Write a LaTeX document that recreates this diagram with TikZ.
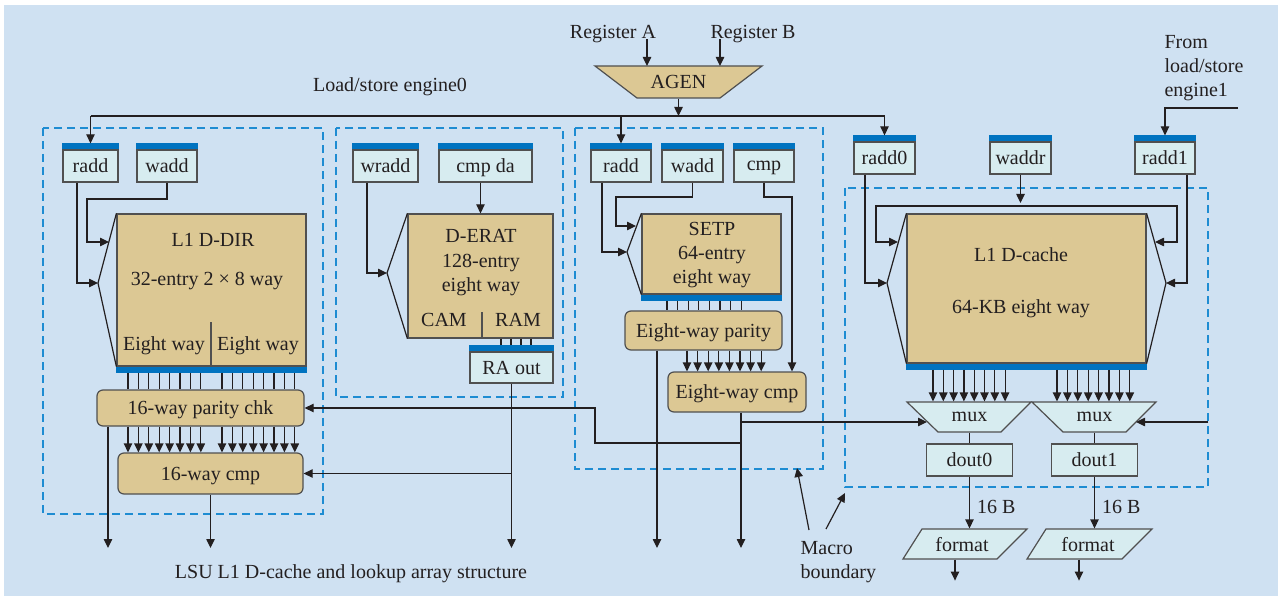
\documentclass[tikz,border=0pt]{standalone}
\usepackage{fontspec}
\setmainfont{Liberation Serif}
\usetikzlibrary{arrows.meta}

\definecolor{bgblue}{HTML}{CFE1F2}
\definecolor{arrayfill}{HTML}{DCC894}
\definecolor{regfill}{HTML}{D7ECF0}
\definecolor{barblue}{HTML}{0073C0}
\definecolor{macroblue}{HTML}{1E8CD2}
\definecolor{ink}{HTML}{231F20}
\definecolor{edge}{HTML}{505050}

\tikzset{
  wire/.style={draw=ink, line width=0.6pt},
  regbox/.style={draw=edge, fill=regfill, line width=0.6pt, inner sep=0pt, minimum height=16pt, text=ink, text depth=0pt},
  arraybox/.style={draw=edge, fill=arrayfill, line width=0.6pt, inner sep=0pt, text=ink, text depth=0pt},
  logicbox/.style={arraybox, rounded corners=3pt},
  shapefill/.style={draw=edge, fill=regfill, line width=0.6pt},
  macroline/.style={draw=macroblue, line width=0.75pt, dash pattern=on 4pt off 2.5pt},
  txt/.style={inner sep=0pt, text=ink, text depth=0pt},
}

% blue bars on top / bottom of arrays and latches
\newcommand{\topbar}[1]{%
  \fill[barblue] (#1.north west) rectangle ([yshift=3pt]#1.north east);
  \coordinate (#1bar) at ([yshift=3pt]#1.north);}
\newcommand{\botbar}[1]{%
  \fill[barblue] (#1.south west) rectangle ([yshift=-3pt]#1.south east);
  \coordinate (#1bar) at ([yshift=-3pt]#1.south);}

\begin{document}
\begin{tikzpicture}[x=0.5pt, y=-0.5pt, >={Triangle[length=4.5pt,width=4.2pt]}, line width=0.6pt]
    \useasboundingbox (0,0) rectangle (1281,599);
    \fill[bgblue] (4,5) rectangle (1278,596);

    % macro boundaries
    \draw[macroline] (43,128) rectangle (323,514);
    \draw[macroline] (336,128) rectangle (563,397);
    \draw[macroline] (575,128) rectangle (823,469);
    \draw[macroline] (845,188) rectangle (1208,487);

    % AGEN
    \node[txt] (rega) at (613,32) {Register A};
    \node[txt] (regb) at (753,32) {Register B};
    \draw[draw=edge, fill=arrayfill] (595,66) -- (762,66) -- (720,98) -- (637,98) -- cycle;
    \node[txt, minimum width=41.5pt, minimum height=16pt] (agen) at (678.5,82) {AGEN};
    \node[txt] (lse0) at (390,85) {Load/store engine0};
    \coordinate (bus) at (0,116);
    \coordinate (floor) at (0,548);

    % L1 D-DIR
    \node[regbox, minimum width=27.5pt] (raddA) at (90.5,166) {radd};
    \node[regbox, minimum width=30pt] (waddA) at (167,166) {wadd};
    \node[arraybox, minimum width=94.5pt, minimum height=76pt] (ddir) at (211.5,290) {};
    \node[txt] (ddirname) at (213,240) {L1 D-DIR};
    \node[txt] (ddirsize) at (207,279) {32-entry 2 × 8 way};
    \node[txt] (ddirway0) at (164,344) {Eight way};
    \node[txt] (ddirway1) at (258,344) {Eight way};
    \draw[draw=edge] (211,322) -- (ddir.south -| 211,0);
    \node[logicbox, minimum width=103.5pt, minimum height=18pt] (parA) at (200.5,408) {16-way parity chk};
    \node[logicbox, minimum width=92.5pt, minimum height=20.5pt] (cmpA) at (210.5,473.5) {16-way cmp};
    \coordinate (tipA) at (98,283);

    % D-ERAT
    \node[regbox, minimum width=32.5pt] (wraddB) at (385.5,166) {wradd};
    \node[regbox, minimum width=46.5pt] (cmpdaB) at (485.5,166) {cmp da};
    \node[arraybox, minimum width=72.5pt, minimum height=62pt] (derat) at (480.5,276) {};
    \node[txt] (deratname) at (481,236) {D-ERAT};
    \node[txt] (deratsize) at (481,261) {128-entry};
    \node[txt] (deratways) at (481,285) {eight way};
    \node[txt] (cam) at (444,320) {CAM};
    \node[txt] (ram) at (518,320) {RAM};
    \draw[draw=edge] (482,312) -- (derat.south -| 482,0);
    \node[regbox, minimum width=41.5pt, minimum height=15.5pt] (raout) at (511.5,367.5) {RA out};
    \coordinate (tipB) at (387,273);

    % SETP
    \node[regbox, minimum width=30pt] (raddC) at (621,166) {radd};
    \node[regbox, minimum width=30.5pt] (waddC) at (692.5,166) {wadd};
    \node[regbox, minimum width=30pt] (cmpC) at (764,166) {cmp};
    \node[arraybox, minimum width=69.5pt, minimum height=40pt] (setp) at (711.5,254) {};
    \node[txt] (setpname) at (712,229) {SETP};
    \node[txt] (setpsize) at (712,253) {64-entry};
    \node[txt] (setpways) at (712,277) {eight way};
    \node[logicbox, minimum width=78.5pt, minimum height=19.5pt] (parC) at (703.5,330.5) {Eight-way parity};
    \node[logicbox, minimum width=69pt, minimum height=20pt] (cmpE) at (737,392) {Eight-way cmp};
    \coordinate (tipC) at (627,252);

    % L1 D-cache
    \node[regbox, minimum width=30.5pt] (radd0) at (884.5,158) {radd0};
    \node[regbox, minimum width=30.5pt] (waddr) at (1020.5,158) {waddr};
    \node[regbox, minimum width=30pt] (radd1) at (1165,158) {radd1};
    \node[arraybox, minimum width=119.5pt, minimum height=74.5pt] (dcache) at (1026.5,288.5) {};
    \node[txt] (dcachename) at (1021,255) {L1 D-cache};
    \node[txt] (dcachesize) at (1021,307) {64-KB eight way};
    \coordinate (tipL) at (887,283);
    \coordinate (tipR) at (1166,283);
    \draw[shapefill] (907,402) -- (1031,402) -- (1001,432) -- (938,432) -- cycle;
    \draw[shapefill] (1032,402) -- (1156,402) -- (1126,432) -- (1063,432) -- cycle;
    \node[txt, minimum width=31.5pt, minimum height=15pt] (mux0) at (969.5,417) {mux};
    \node[txt, minimum width=31.5pt, minimum height=15pt] (mux1) at (1094.5,417) {mux};
    \node[regbox, minimum width=43pt] (dout0) at (969.5,460) {dout0};
    \node[regbox, minimum width=43pt] (dout1) at (1094.5,460) {dout1};
    \draw[shapefill] (922,529) -- (1027,529) -- (997,559) -- (903,559) -- cycle;
    \draw[shapefill] (1046,529) -- (1152,529) -- (1122,559) -- (1027,559) -- cycle;
    \node[txt, minimum height=15pt] (fmt0) at (962,544) {format};
    \node[txt, minimum height=15pt] (fmt1) at (1088,544) {format};

    \topbar{raddA} \topbar{waddA} \botbar{ddir}
    \topbar{wraddB} \topbar{cmpdaB} \topbar{raout}
    \topbar{raddC} \topbar{waddC} \topbar{cmpC} \botbar{setp}
    \topbar{radd0} \topbar{waddr} \topbar{radd1} \botbar{dcache}

    % decoder wedges
    \draw[wire] (ddir.north west) -- (tipA) -- (ddir.south west);
    \draw[wire] (derat.north west) -- (tipB) -- (derat.south west);
    \draw[wire] (setp.north west) -- (tipC) -- (setp.south west);
    \draw[wire] (dcache.north west) -- (tipL) -- (dcache.south west);
    \draw[wire] (dcache.north east) -- (tipR) -- (dcache.south east);

    % address bus
    \draw[wire,->] (rega.south -| 647,0) -- (647,66);
    \draw[wire,->] (regb.south -| 720,0) -- (720,66);
    \draw[wire,->] (agen.south) -- (agen.south |- bus);
    \draw[wire] (raddAbar |- bus) -- (radd0bar |- bus);
    \draw[wire,->] (raddAbar |- bus) -- (raddAbar);
    \draw[wire,->] (raddCbar |- bus) -- (raddCbar);
    \draw[wire,->] (radd0bar |- bus) -- (radd0bar);

    % D-DIR wiring
    \draw[wire,->] ([xshift=-6.75pt]raddA.south) |- (tipA);
    \draw[wire,->] (waddA.south) |- (87,199) |- (109,242);
    \foreach \i in {0,...,7}{
        \pgfmathsetmacro\xa{128+10.4*\i}
        \pgfmathsetmacro\xb{222+10.4*\i}
        \draw[wire] (ddirbar -| \xa,0) -- (parA.north -| \xa,0);
        \draw[wire] (ddirbar -| \xb,0) -- (parA.north -| \xb,0);
        \draw[wire,->] (parA.south -| \xa,0) -- (cmpA.north -| \xa,0);
        \draw[wire,->] (parA.south -| \xb,0) -- (cmpA.north -| \xb,0);
    }
    \draw[wire,->] (parA.south -| 108,0) -- (floor -| 108,0);
    \draw[wire,->] (cmpA.south) -- (cmpA.south |- floor);

    % D-ERAT wiring
    \draw[wire,->] ([xshift=-9.25pt]wraddB.south) |- (tipB);
    \draw[wire,->] (cmpdaB.south -| derat.north) -- (derat.north);
    \foreach \x in {501,511,521,531}
        \draw[wire] (derat.south -| \x,0) -- (raoutbar -| \x,0);
    \draw[wire,->] (raout.south) -- (raout.south |- floor);
    \draw[wire,->] (raout.south |- cmpA.east) -- (cmpA.east);

    % SETP wiring
    \draw[wire,->] ([xshift=-9.5pt]raddC.south) |- (tipC);
    \draw[wire,->] (waddC.south) |- (616,197) |- (636,226);
    \draw[wire,->] (cmpC.south) |- (792,197) -- (cmpE.north -| 792,0);
    \foreach \i in {0,...,7}{
        \pgfmathsetmacro\xc{667+10.6*\i}
        \pgfmathsetmacro\xd{687+10.6*\i}
        \draw[wire] (setpbar -| \xc,0) -- (parC.north -| \xc,0);
        \draw[wire,->] (parC.south -| \xd,0) -- (cmpE.north -| \xd,0);
    }
    \draw[wire,->] (parC.south -| 657,0) -- (floor -| 657,0);
    \draw[wire,->] (cmpE.south -| 741,0) -- (floor -| 741,0);
    \draw[wire,->] (741,443) -| (595,408) -- (parA.east);
    \draw[wire,->] (741,422) -- (927,422);

    % D-cache wiring
    \draw[wire,->] ([xshift=-9.75pt]radd0.south) |- (tipL);
    \draw[wire,->] ([xshift=11pt]radd1.south) |- (tipR);
    \draw[wire,->] (waddr.south) -- (waddr.south |- 0,203);
    \draw[wire,<->] (898,242) -| (876,206) -| (1177,242) -- (1155,242);
    \foreach \i in {0,...,7}{
        \pgfmathsetmacro\xe{933+10.3*\i}
        \pgfmathsetmacro\xf{1057+10.4*\i}
        \draw[wire,->] (dcachebar -| \xe,0) -- (mux0.north -| \xe,0);
        \draw[wire,->] (dcachebar -| \xf,0) -- (mux1.north -| \xf,0);
    }
    \draw[wire,->] (1208,422) -- (1136,422);
    \draw[wire] (mux0.south) -- (dout0.north);
    \draw[wire] (mux1.south) -- (dout1.north);
    \draw[wire,->] (dout0.south) -- (dout0.south |- fmt0.north) node[txt, pos=0.58, right=3.5pt] (bw0) {16 B};
    \draw[wire,->] (dout1.south) -- (dout1.south |- fmt1.north) node[txt, pos=0.58, right=3.5pt] (bw1) {16 B};
    \draw[wire,->] (fmt0.south -| 955,0) -- ++(0,21);
    \draw[wire,->] (fmt1.south -| 1079,0) -- ++(0,21);

    % engine1 input
    \node[txt, align=left, anchor=west] (lse1) at (1164,66) {From\\load/store\\engine1};
    \draw[wire,->] (1238,108) -| (radd1bar);

    % labels
    \node[txt, align=left, anchor=west] (macrolbl) at (800,560) {Macro\\boundary};
    \draw[wire,->] (809,530) -- (797,468);
    \draw[wire,->] (826,529) -- (845,493);
    \node[txt] (caption) at (351,572) {LSU L1 D-cache and lookup array structure};

\end{tikzpicture}
\end{document}
